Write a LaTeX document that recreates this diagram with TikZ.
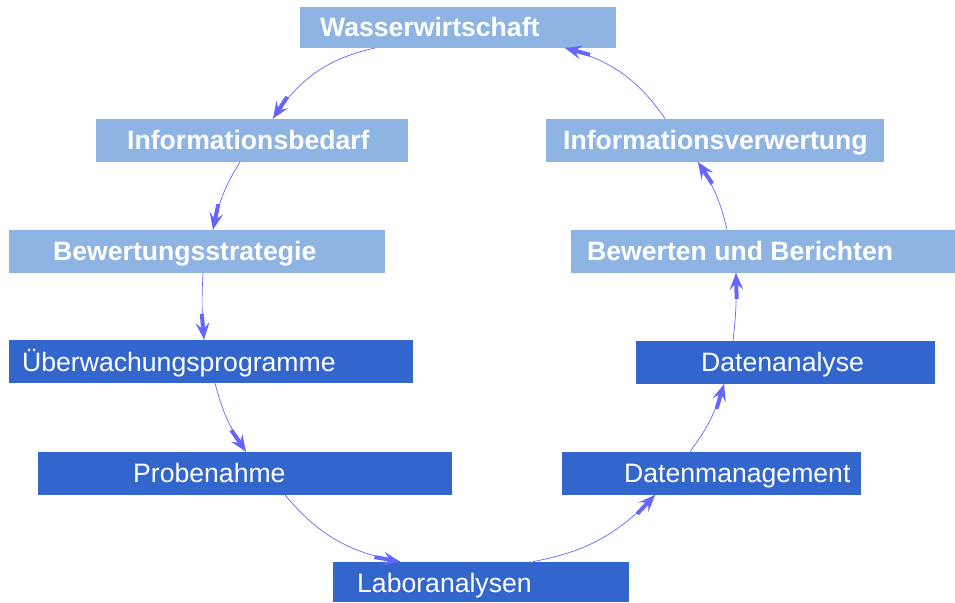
\documentclass[tikz,border=0pt]{standalone}
\usepackage{fontspec}
\setmainfont{Liberation Sans}
\usetikzlibrary{decorations.markings}
\definecolor{lightbox}{HTML}{8EB4E3}
\definecolor{darkbox}{HTML}{3366CC}
\definecolor{arrowc}{HTML}{6666FF}
\begin{document}
\begin{tikzpicture}[x=1pt,y=1pt,
  boxbase/.style={rectangle, inner sep=0pt, anchor=south west},
  lbox/.style={boxbase, fill=lightbox},
  dbox/.style={boxbase, fill=darkbox},
  btext/.style={anchor=base west, inner sep=0pt, text=white, font=\fontsize{26.6}{30}\selectfont\bfseries},
  rtext/.style={anchor=base west, inner sep=0pt, text=white, font=\fontsize{26.6}{30}\selectfont},
  arr/.style={draw=arrowc, line width=0.7pt,
    decoration={markings, mark=at position 1 with {
      \fill[arrowc] (0pt,0pt) -- (-17pt,7pt) -- (-12pt,2pt) -- (-26pt,2pt)
        -- (-26pt,-2pt) -- (-12pt,-2pt) -- (-17pt,-7pt) -- cycle;}},
    postaction={decorate}}
]
\useasboundingbox (0,0) rectangle (955,602);
% boxes
\node[lbox, minimum width=316pt, minimum height=41pt] (b1) at (300,554) {};
\node[lbox, minimum width=312pt, minimum height=43pt] (b2) at (96,440) {};
\node[lbox, minimum width=376pt, minimum height=43pt] (b3) at (9,329) {};
\node[dbox, minimum width=404pt, minimum height=43pt] (b4) at (9,219) {};
\node[dbox, minimum width=414pt, minimum height=43pt] (b5) at (38,107) {};
\node[dbox, minimum width=296pt, minimum height=40pt] (b6) at (333,0) {};
\node[dbox, minimum width=299pt, minimum height=43pt] (b7) at (562,107) {};
\node[dbox, minimum width=299pt, minimum height=43pt] (b8) at (636,218) {};
\node[lbox, minimum width=384pt, minimum height=43pt] (b9) at (571,329) {};
\node[lbox, minimum width=338pt, minimum height=43pt] (b10) at (546,440) {};
% texts
\node[btext] (t1) at (320,565) {Wasserwirtschaft};
\node[btext] (t2) at (127,452) {Informationsbedarf};
\node[btext] (t3) at (53,341) {Bewertungsstrategie};
\node[rtext] (t4) at (22,230.5) {Überwachungsprogramme};
\node[rtext] (t5) at (133,119) {Probenahme};
\node[rtext] (t6) at (357,10) {Laboranalysen};
\node[rtext] (t7) at (624,119) {Datenmanagement};
\node[rtext] (t8) at (701,230) {Datenanalyse};
\node[btext] (t9) at (587,341) {Bewerten und Berichten};
\node[btext] (t10) at (563,452) {Informationsverwertung};
% connectors
\draw[arr] ([xshift=75pt]b1.south west) to[bend right=22] ([xshift=177pt]b2.north west);
\draw[arr] ([xshift=144pt]b2.south west) to[bend right=10] ([xshift=204pt]b3.north west);
\draw[arr] ([xshift=194pt]b3.south west) to[bend right=4] ([xshift=195pt]b4.north west);
\draw[arr] ([xshift=206pt]b4.south west) to[bend right=10] ([xshift=208pt]b5.north west);
\draw[arr] ([xshift=247pt]b5.south west) to[bend right=20] ([xshift=67pt]b6.north west);
\draw[arr] ([xshift=200pt]b6.north west) to[bend right=18] ([xshift=93pt]b7.south west);
\draw[arr] ([xshift=128pt]b7.north west) to[bend right=10] ([xshift=88pt]b8.south west);
\draw[arr] ([xshift=97pt]b8.north west) to[bend right=4] ([xshift=165pt]b9.south west);
\draw[arr] ([xshift=156pt]b9.north west) to[bend right=10] ([xshift=152pt]b10.south west);
\draw[arr] ([xshift=119pt]b10.north west) to[bend right=20] ([xshift=265pt]b1.south west);
\end{tikzpicture}
\end{document}
